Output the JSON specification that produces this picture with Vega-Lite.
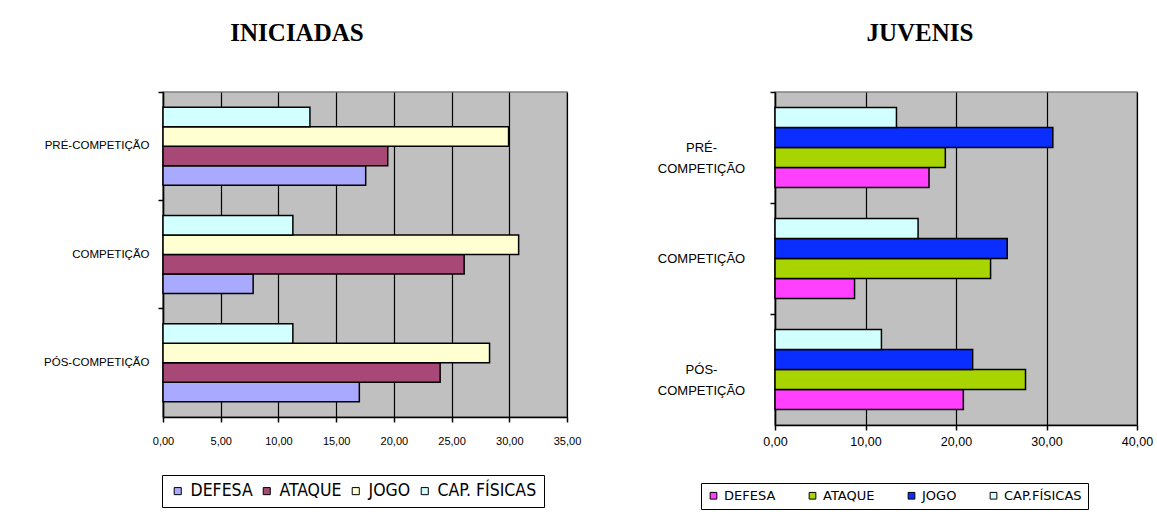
{
  "$schema": "https://vega.github.io/schema/vega-lite/v6.json",
  "padding": {"left": 42, "top": 20, "right": 5, "bottom": 0},
  "background": "white",
  "spacing": 74,
  "config": {
    "view": {"fill": "#C0C0C0", "stroke": "#808080", "strokeWidth": 1.5},
    "font": "Liberation Sans",
    "title": {"font": "Liberation Serif", "fontSize": 25, "fontWeight": "bold", "color": "black", "anchor": "middle"}
  },
  "datasets": {
    "ini": [
      {"fase": "PRÉ-COMPETIÇÃO", "item": "DEFESA", "valor": 17.56},
      {"fase": "PRÉ-COMPETIÇÃO", "item": "ATAQUE", "valor": 19.47},
      {"fase": "PRÉ-COMPETIÇÃO", "item": "JOGO", "valor": 29.94},
      {"fase": "PRÉ-COMPETIÇÃO", "item": "CAP. FÍSICAS", "valor": 12.73},
      {"fase": "COMPETIÇÃO", "item": "DEFESA", "valor": 7.81},
      {"fase": "COMPETIÇÃO", "item": "ATAQUE", "valor": 26.09},
      {"fase": "COMPETIÇÃO", "item": "JOGO", "valor": 30.81},
      {"fase": "COMPETIÇÃO", "item": "CAP. FÍSICAS", "valor": 11.25},
      {"fase": "PÓS-COMPETIÇÃO", "item": "DEFESA", "valor": 17.01},
      {"fase": "PÓS-COMPETIÇÃO", "item": "ATAQUE", "valor": 24.01},
      {"fase": "PÓS-COMPETIÇÃO", "item": "JOGO", "valor": 28.29},
      {"fase": "PÓS-COMPETIÇÃO", "item": "CAP. FÍSICAS", "valor": 11.25}
    ],
    "juv": [
      {"fase": "PRÉ-COMPETIÇÃO", "item": "DEFESA", "valor": 17.02},
      {"fase": "PRÉ-COMPETIÇÃO", "item": "ATAQUE", "valor": 18.82},
      {"fase": "PRÉ-COMPETIÇÃO", "item": "JOGO", "valor": 30.7},
      {"fase": "PRÉ-COMPETIÇÃO", "item": "CAP. FÍSICAS", "valor": 13.42},
      {"fase": "COMPETIÇÃO", "item": "DEFESA", "valor": 8.79},
      {"fase": "COMPETIÇÃO", "item": "ATAQUE", "valor": 23.82},
      {"fase": "COMPETIÇÃO", "item": "JOGO", "valor": 25.66},
      {"fase": "COMPETIÇÃO", "item": "CAP. FÍSICAS", "valor": 15.81},
      {"fase": "PÓS-COMPETIÇÃO", "item": "DEFESA", "valor": 20.81},
      {"fase": "PÓS-COMPETIÇÃO", "item": "ATAQUE", "valor": 27.68},
      {"fase": "PÓS-COMPETIÇÃO", "item": "JOGO", "valor": 21.84},
      {"fase": "PÓS-COMPETIÇÃO", "item": "CAP. FÍSICAS", "valor": 11.76}
    ]
  },
  "hconcat": [
    {
      "title": {"text": "INICIADAS", "dx": -68, "offset": 45},
      "width": 404,
      "height": 325,
      "data": {"name": "ini"},
      "mark": {"type": "bar", "stroke": "black", "strokeWidth": 1.5},
      "encoding": {
        "y": {
          "field": "fase", "type": "nominal",
          "sort": ["PRÉ-COMPETIÇÃO", "COMPETIÇÃO", "PÓS-COMPETIÇÃO"],
          "scale": {"paddingInner": 0.28, "paddingOuter": 0.14},
          "axis": {"title": null, "bandPosition": -0.1944, "tickSize": 5, "tickColor": "black", "tickWidth": 1.5, "domainColor": "black", "domainWidth": 1.5, "labelPadding": 9, "labelFontSize": 11.5, "labelColor": "black", "labelFont": "Liberation Sans", "labelLimit": 200}
        },
        "yOffset": {
          "field": "item", "type": "nominal",
          "sort": ["CAP. FÍSICAS", "JOGO", "ATAQUE", "DEFESA"],
          "scale": {"domain": ["CAP. FÍSICAS", "JOGO", "ATAQUE", "DEFESA"], "paddingInner": 0, "paddingOuter": 0}
        },
        "x": {
          "field": "valor", "type": "quantitative",
          "scale": {"domain": [0, 35], "nice": false, "zero": true},
          "axis": {"title": null, "values": [0, 5, 10, 15, 20, 25, 30, 35], "grid": true, "gridColor": "black", "gridWidth": 1.2, "gridOpacity": 1, "tickSize": 5, "tickColor": "black", "tickWidth": 1.5, "domainColor": "black", "domainWidth": 1.5, "labelPadding": 13, "labelFontSize": 11, "labelColor": "black", "labelFlush": false, "labelExpr": "replace(format(datum.value, '.2f'), '.', ',')"}
        },
        "color": {
          "field": "item", "type": "nominal",
          "scale": {"domain": ["DEFESA", "ATAQUE", "JOGO", "CAP. FÍSICAS"], "range": ["#A9A9FF", "#A84876", "#FFFFD2", "#D2FFFF"]},
          "legend": {"title": null, "orient": "none", "legendX": -1, "legendY": 383, "direction": "horizontal", "strokeColor": "black", "fillColor": "white", "padding": 7, "symbolType": "square", "symbolSize": 50, "symbolStrokeColor": "black", "symbolStrokeWidth": 1, "labelFontSize": 17.5, "labelFont": "'DejaVu Sans Condensed', 'Liberation Sans'", "labelColor": "black", "labelOffset": 4, "columnPadding": 5}
        }
      }
    },
    {
      "title": {"text": "JUVENIS", "dx": -36, "offset": 45},
      "width": 362,
      "height": 333,
      "data": {"name": "juv"},
      "mark": {"type": "bar", "stroke": "black", "strokeWidth": 1.5},
      "encoding": {
        "y": {
          "field": "fase", "type": "nominal",
          "sort": ["PRÉ-COMPETIÇÃO", "COMPETIÇÃO", "PÓS-COMPETIÇÃO"],
          "scale": {"paddingInner": 0.28, "paddingOuter": 0.14},
          "axis": {"title": null, "bandPosition": -0.1944, "tickSize": 5, "tickColor": "black", "tickWidth": 1.5, "domainColor": "black", "domainWidth": 1.5, "labelPadding": 69, "labelAlign": "center", "labelFontSize": 13, "labelLineHeight": 21, "labelColor": "black", "labelFont": "Liberation Sans", "labelLimit": 200,
            "labelExpr": "datum.value == 'PRÉ-COMPETIÇÃO' ? ['PRÉ-', 'COMPETIÇÃO'] : datum.value == 'PÓS-COMPETIÇÃO' ? ['PÓS-', 'COMPETIÇÃO'] : datum.value"}
        },
        "yOffset": {
          "field": "item", "type": "nominal",
          "sort": ["CAP. FÍSICAS", "JOGO", "ATAQUE", "DEFESA"],
          "scale": {"domain": ["CAP. FÍSICAS", "JOGO", "ATAQUE", "DEFESA"], "paddingInner": 0, "paddingOuter": 0}
        },
        "x": {
          "field": "valor", "type": "quantitative",
          "scale": {"domain": [0, 40], "nice": false, "zero": true},
          "axis": {"title": null, "values": [0, 10, 20, 30, 40], "grid": true, "gridColor": "black", "gridWidth": 1.2, "gridOpacity": 1, "tickSize": 5, "tickColor": "black", "tickWidth": 1.5, "domainColor": "black", "domainWidth": 1.5, "labelPadding": 5, "labelFontSize": 12.5, "labelColor": "black", "labelFlush": false, "labelExpr": "replace(format(datum.value, '.2f'), '.', ',')"}
        },
        "color": {
          "field": "item", "type": "nominal",
          "scale": {"domain": ["DEFESA", "ATAQUE", "JOGO", "CAP. FÍSICAS"], "range": ["#FF40FF", "#A8D400", "#0A2EFF", "#D2FFFF"]},
          "legend": {"title": null, "orient": "none", "legendX": -74, "legendY": 391, "direction": "horizontal", "strokeColor": "black", "fillColor": "white", "padding": 6, "symbolType": "square", "symbolSize": 45, "symbolStrokeColor": "black", "symbolStrokeWidth": 1, "labelFontSize": 13, "labelFont": "DejaVu Sans", "labelColor": "black", "labelOffset": 4, "columnPadding": 30,
            "labelExpr": "replace(datum.label, '. ', '.')"}
        }
      }
    }
  ],
  "resolve": {"scale": {"color": "independent", "x": "independent", "y": "independent", "yOffset": "independent"}, "legend": {"color": "independent"}}
}
